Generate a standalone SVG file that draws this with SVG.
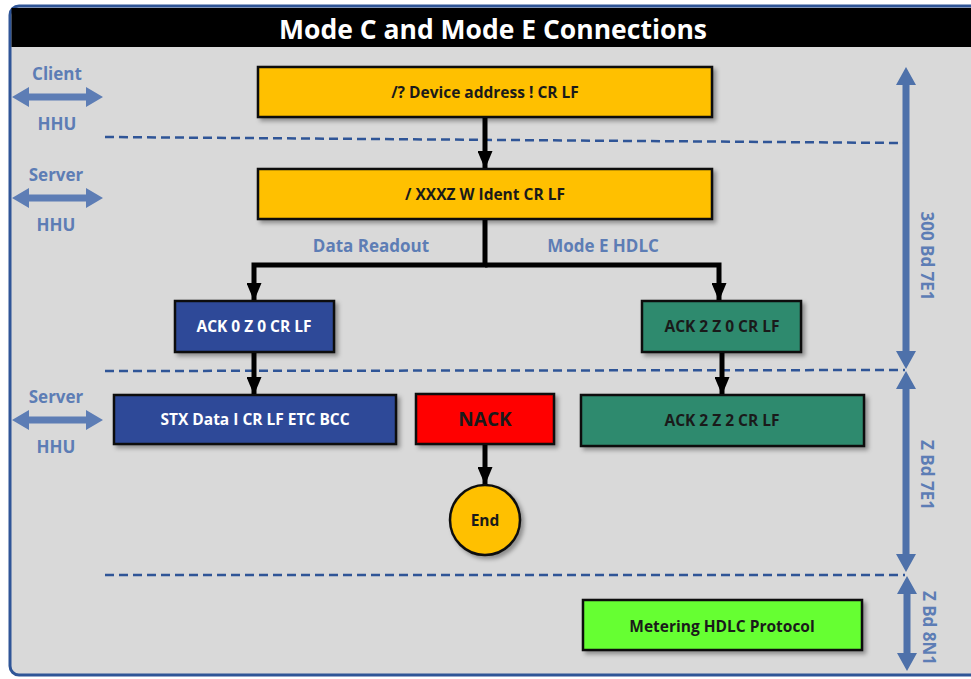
<svg xmlns="http://www.w3.org/2000/svg" width="971" height="679" viewBox="0 0 971 679">
  <defs>
    <style>
      .node rect, .node circle { stroke: #111; stroke-width: 2.5; filter: url(#shadow); }
      .lbl { font-family: "Open Sans", "Liberation Sans", sans-serif; font-weight: 700; text-anchor: middle; dominant-baseline: central; }
      .dark { fill: #1a1a1a; font-size: 15.5px; }
      .light { fill: #ffffff; font-size: 15.5px; }
      .side { fill: #5d7db5; font-size: 17px; }
      .flow { stroke: #000; stroke-width: 5; fill: none; marker-end: url(#tip); }
      .zone { stroke: #2f5597; stroke-width: 2.5; stroke-dasharray: 9 5; fill: none; }
      .harrow { fill: #5d7db5; }
      .varrow { fill: #4e71aa; }
    </style>
    <filter id="shadow" x="-10%" y="-20%" width="125%" height="150%">
      <feDropShadow dx="3" dy="3" stdDeviation="2" flood-color="#000" flood-opacity="0.35"/>
    </filter>
    <marker id="tip" viewBox="0 0 18 15" refX="18" refY="7.5" markerWidth="18" markerHeight="15" markerUnits="userSpaceOnUse" orient="auto">
      <path d="M0,0 L18,7.5 L0,15 Z" fill="#000"/>
    </marker>
  </defs>

  <!-- page and frame -->
  <rect x="0" y="0" width="971" height="679" fill="#ffffff"/>
  <rect x="10" y="6" width="975" height="669" rx="9" fill="#d9d9d9" stroke="#2f5597" stroke-width="3"/>
  <rect x="11.5" y="8" width="960" height="39" fill="#000"/>
  <text class="lbl" x="493" y="29" style="fill:#ffffff;font-size:26.5px">Mode C and Mode E Connections</text>

  <!-- zone separators -->
  <g id="zones">
    <line class="zone" x1="105" y1="137" x2="905" y2="143"/>
    <line class="zone" x1="105" y1="371" x2="905" y2="370"/>
    <line class="zone" x1="105" y1="575" x2="905" y2="575"/>
  </g>

  <!-- left side: interface arrows -->
  <g id="side-client">
    <polygon class="harrow" points="12,97 29,87 29,93.5 86,93.5 86,87 103,97 86,107 86,100.5 29,100.5 29,107"/>
    <text class="lbl side" x="57" y="73">Client</text>
    <text class="lbl side" x="57" y="123">HHU</text>
  </g>
  <g id="side-server-1">
    <polygon class="harrow" points="12,198 29,188 29,194.5 86,194.5 86,188 103,198 86,208 86,201.5 29,201.5 29,208"/>
    <text class="lbl side" x="56" y="174">Server</text>
    <text class="lbl side" x="56" y="224">HHU</text>
  </g>
  <g id="side-server-2">
    <polygon class="harrow" points="12,420 29,410 29,416.5 86,416.5 86,410 103,420 86,430 86,423.5 29,423.5 29,430"/>
    <text class="lbl side" x="56" y="396">Server</text>
    <text class="lbl side" x="56" y="446">HHU</text>
  </g>

  <!-- right side: baud rate ranges -->
  <g id="rate-300">
    <polygon class="varrow" points="906,67 916,85 909.5,85 909.5,351 916,351 906,369 896,351 902.5,351 902.5,85 896,85"/>
    <text class="lbl side" transform="translate(927,256) rotate(90)">300 Bd 7E1</text>
  </g>
  <g id="rate-z-7e1">
    <polygon class="varrow" points="906,371 916,389 909.5,389 909.5,554 916,554 906,572 896,554 902.5,554 902.5,389 896,389"/>
    <text class="lbl side" transform="translate(927,475) rotate(90)">Z Bd 7E1</text>
  </g>
  <g id="rate-z-8n1">
    <polygon class="varrow" points="907,576 917,594 910.5,594 910.5,653 917,653 907,671 897,653 903.5,653 903.5,594 897,594"/>
    <text class="lbl side" transform="translate(929,628) rotate(90)">Z Bd 8N1</text>
  </g>

  <!-- branch labels -->
  <text class="lbl side" x="371" y="245">Data Readout</text>
  <text class="lbl side" x="603" y="245">Mode E HDLC</text>

  <!-- connectors -->
  <g id="connectors">
    <line class="flow" x1="485" y1="118" x2="485" y2="169"/>
    <polyline class="flow" points="485,220 485,265 254,265 254,301"/>
    <polyline class="flow" points="485,265 719,265 719,301"/>
    <line class="flow" x1="254" y1="353" x2="254" y2="395"/>
    <line class="flow" x1="722" y1="353" x2="722" y2="395"/>
    <line class="flow" x1="485" y1="445" x2="485" y2="485"/>
  </g>

  <!-- nodes -->
  <g id="request" class="node">
    <rect x="258" y="67" width="454" height="50" fill="#ffc000"/>
    <text class="lbl dark" x="485" y="92">/? Device address ! CR LF</text>
  </g>
  <g id="identification" class="node">
    <rect x="258" y="169" width="454" height="50" fill="#ffc000"/>
    <text class="lbl dark" x="485" y="194">/ XXXZ W Ident CR LF</text>
  </g>
  <g id="ack-0z0" class="node">
    <rect x="175" y="301" width="159" height="51" fill="#2f4898"/>
    <text class="lbl light" x="254" y="326">ACK 0 Z 0 CR LF</text>
  </g>
  <g id="ack-2z0" class="node">
    <rect x="642" y="301" width="159" height="51" fill="#2e8a6e"/>
    <text class="lbl dark" x="722" y="326">ACK 2 Z 0 CR LF</text>
  </g>
  <g id="data-message" class="node">
    <rect x="114" y="395" width="282" height="49" fill="#2f4898"/>
    <text class="lbl light" x="255" y="419">STX Data I CR LF ETC BCC</text>
  </g>
  <g id="nack" class="node">
    <rect x="416" y="394" width="138" height="50" fill="#ff0000"/>
    <text class="lbl dark" x="485" y="419" style="font-size:19px">NACK</text>
  </g>
  <g id="ack-2z2" class="node">
    <rect x="581" y="395" width="283" height="51" fill="#2e8a6e"/>
    <text class="lbl dark" x="722" y="420">ACK 2 Z 2 CR LF</text>
  </g>
  <g id="end" class="node">
    <circle cx="485" cy="520" r="35" fill="#ffc000"/>
    <text class="lbl dark" x="485" y="520">End</text>
  </g>
  <g id="hdlc" class="node">
    <rect x="583" y="600" width="279" height="50" fill="#66ff33"/>
    <text class="lbl dark" x="722" y="626">Metering HDLC Protocol</text>
  </g>
</svg>
